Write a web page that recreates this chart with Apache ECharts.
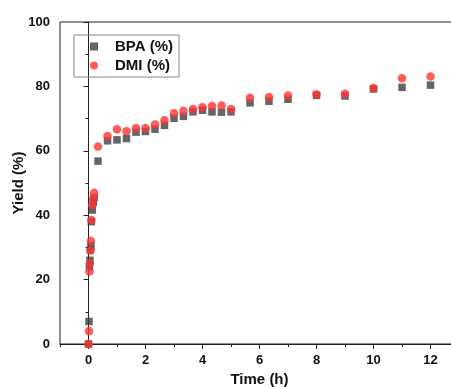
<!DOCTYPE html>
<html>
<head>
<meta charset="utf-8">
<script src="https://cdn.jsdelivr.net/npm/echarts@6/dist/echarts.min.js"></script>
<style>html,body{margin:0;padding:0;background:#fff;}#c{width:451px;height:387px;}</style>
</head>
<body>
<div id="c"></div>
<script>
var time = [0, 0.017, 0.033, 0.05, 0.067, 0.083, 0.1, 0.133, 0.167, 0.2, 0.333, 0.667, 1, 1.333, 1.667, 2, 2.333, 2.667, 3, 3.333, 3.667, 4, 4.333, 4.667, 5, 5.667, 6.333, 7, 8, 9, 10, 11, 12];
var bpa = [0, 7, 24, 26, 29.2, 30.5, 38, 41.6, 44, 45.5, 56.8, 63.1, 63.4, 63.8, 65.8, 66, 66.7, 67.9, 70.1, 70.7, 72.1, 72.6, 72.1, 72, 72.1, 74.9, 75.4, 76, 77.2, 77, 79.2, 79.7, 80.4];
var dmi = [0, 4, 22.5, 25, 29, 32, 38.5, 43.2, 45.2, 47, 61.3, 64.6, 66.7, 66.1, 67.1, 67.1, 68.2, 69.5, 71.7, 72.4, 73, 73.5, 73.9, 74.1, 73, 76.5, 76.7, 77.2, 77.6, 77.7, 79.5, 82.5, 83.1];
var xTickLabels = ['0', '2', '4', '6', '8', '10', '12'];
var yTickLabels = ['0', '20', '40', '60', '80', '100'];

function pairs(xs, ys) { return xs.map(function (x, i) { return [x, ys[i]]; }); }

var FONT = 'Liberation Sans, Arial, sans-serif';
var AX = '#222';
var chart = echarts.init(document.getElementById('c'), null, {renderer: 'canvas'});
chart.setOption({
  animation: false,
  backgroundColor: '#fff',
  grid: [
    {left: 60, top: 22, width: 399, height: 322, show: true, borderColor: AX, borderWidth: 1, backgroundColor: 'transparent', outerBoundsMode: 'none', containLabel: false},
    {left: 88.5, top: 22, width: 399, height: 322, show: false, outerBoundsMode: 'none', containLabel: false}
  ],
  legend: {
    orient: 'vertical', left: 74, top: 35,
    padding: [4, 6, 4, 16], itemGap: 4,
    itemWidth: 8, itemHeight: 8,
    borderColor: '#888', borderWidth: 1,
    textStyle: {fontFamily: FONT, fontWeight: 'bold', fontSize: 15, color: '#111', padding: [0, 0, 0, 12], lineHeight: 15},
    data: [{name: 'BPA (%)', icon: 'rect'}, {name: 'DMI (%)', icon: 'circle'}]
  },
  xAxis: [
    {
      type: 'value', gridIndex: 0, min: -1, max: 13, interval: 1,
      name: 'Time (h)', nameLocation: 'middle', nameGap: 28, nameMoveOverlap: false,
      nameTextStyle: {fontFamily: FONT, fontWeight: 'bold', fontSize: 15, color: '#111'},
      axisLine: {show: true, lineStyle: {color: AX, width: 1}},
      axisTick: {show: true, inside: false, length: 3, lineStyle: {color: AX}},
      axisLabel: {show: false},
      splitLine: {show: false}
    },
    {
      type: 'value', gridIndex: 1, min: 0, max: 14, interval: 2,
      axisLine: {show: false},
      axisTick: {show: true, inside: false, length: 5, lineStyle: {color: AX}},
      axisLabel: {
        show: true, margin: 10, fontFamily: FONT, fontWeight: 'bold', fontSize: 13, color: '#111',
        formatter: function (v) { var s = String(v); return xTickLabels.indexOf(s) >= 0 ? s : ''; }
      },
      splitLine: {show: false}
    }
  ],
  yAxis: [
    {
      type: 'value', gridIndex: 0, min: 0, max: 100, interval: 20,
      name: 'Yield (%)', nameLocation: 'middle', nameGap: 34, nameRotate: 90, nameMoveOverlap: false,
      nameTextStyle: {fontFamily: FONT, fontWeight: 'bold', fontSize: 15, color: '#111'},
      axisLine: {show: true, lineStyle: {color: AX, width: 1}},
      axisTick: {show: true, inside: false, length: 5, lineStyle: {color: AX}},
      minorTick: {show: true, splitNumber: 2, length: 3, lineStyle: {color: AX}},
      axisLabel: {
        margin: 10, fontFamily: FONT, fontWeight: 'bold', fontSize: 13, color: '#111',
        formatter: function (v) { var s = String(v); return yTickLabels.indexOf(s) >= 0 ? s : ''; }
      },
      splitLine: {show: false}
    },
    {type: 'value', gridIndex: 1, min: 0, max: 100, show: false}
  ],
  series: [
    {
      name: 'BPA (%)', type: 'scatter', xAxisIndex: 0, yAxisIndex: 0,
      symbol: 'rect', symbolSize: 7.5,
      itemStyle: {color: '#3f3f3f'},
      data: pairs(time, bpa), z: 2
    },
    {
      name: 'DMI (%)', type: 'scatter', xAxisIndex: 0, yAxisIndex: 0,
      symbol: 'circle', symbolSize: 8.5,
      itemStyle: {color: '#ff3535'},
      data: pairs(time, dmi), z: 3
    }
  ]
});
</script>
</body>
</html>
